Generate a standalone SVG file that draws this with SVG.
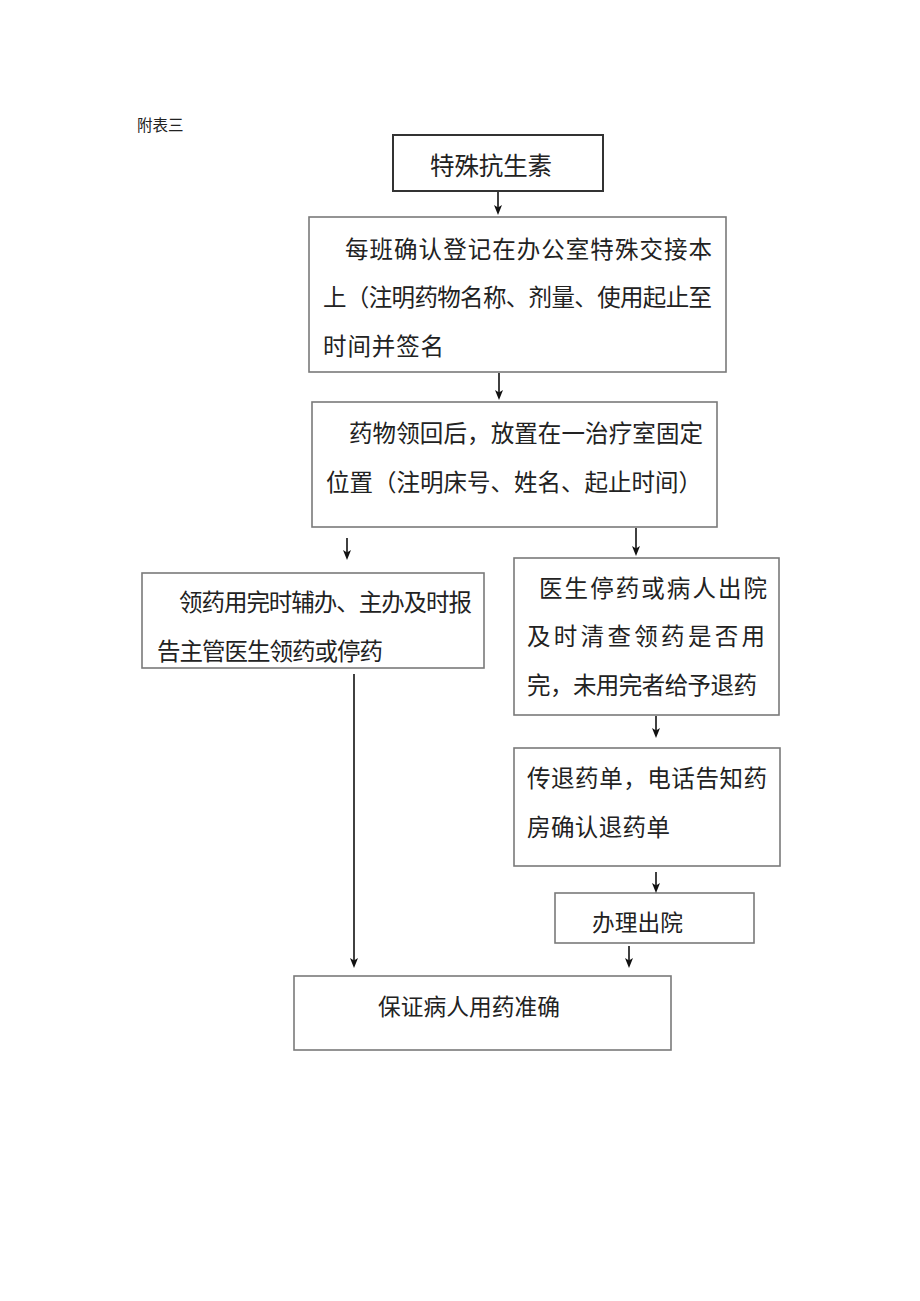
<svg xmlns="http://www.w3.org/2000/svg" width="920" height="1301" viewBox="0 0 920 1301">
<style>
text{font-family:"Noto Sans CJK SC","Noto Sans",sans-serif;fill:#222;}
.t{font-size:23.5px;}
.box{fill:#fff;stroke:#7a7a7a;stroke-width:1.6;}
.box1{fill:#fff;stroke:#333;stroke-width:2;}
.conn{stroke:#111;stroke-width:1.6;fill:none;marker-end:url(#ah);}
</style>
<defs>
<marker id="ah" markerUnits="userSpaceOnUse" markerWidth="10" markerHeight="8" refX="6" refY="4" orient="auto" viewBox="0 0 10 8">
<path d="M0,0 L10,4 L0,8 L2.5,4 Z" fill="#111"/>
</marker>
</defs>
<rect width="920" height="1301" fill="#fff"/>
<text x="137" y="131" style="font-size:15.5px">附表三</text>

<g id="n1"><rect class="box1" x="393" y="135" width="210" height="56"/><text x="430" y="175" style="font-size:24.5px" textLength="122" lengthAdjust="spacing">特殊抗生素</text></g>

<g id="n2"><rect class="box" x="309" y="217" width="417" height="155"/>
<text class="t" x="345" y="258" textLength="367" lengthAdjust="spacing">每班确认登记在办公室特殊交接本</text>
<text class="t" x="323" y="306" textLength="389" lengthAdjust="spacing">上（注明药物名称、剂量、使用起止至</text>
<text class="t" x="323" y="355" textLength="121" lengthAdjust="spacing">时间并签名</text></g>

<g id="n3"><rect class="box" x="312" y="402" width="405" height="125"/>
<text class="t" x="349" y="442" textLength="354" lengthAdjust="spacing">药物领回后，放置在一治疗室固定</text>
<text class="t" x="326" y="491" textLength="376" lengthAdjust="spacing">位置（注明床号、姓名、起止时间）</text></g>

<g id="n4"><rect class="box" x="142" y="573" width="342" height="95"/>
<text class="t" x="179" y="611" textLength="293" lengthAdjust="spacing">领药用完时辅办、主办及时报</text>
<text class="t" x="157" y="660" textLength="226" lengthAdjust="spacing">告主管医生领药或停药</text></g>

<g id="n5"><rect class="box" x="514" y="558" width="265" height="157"/>
<text class="t" x="539" y="597" textLength="228" lengthAdjust="spacing">医生停药或病人出院</text>
<text class="t" x="527" y="645" textLength="238" lengthAdjust="spacing">及时清查领药是否用</text>
<text class="t" x="527" y="694" textLength="230" lengthAdjust="spacing">完，未用完者给予退药</text></g>

<g id="n6"><rect class="box" x="514" y="748" width="266" height="118"/>
<text class="t" x="527" y="787" textLength="240" lengthAdjust="spacing">传退药单，电话告知药</text>
<text class="t" x="527" y="836" textLength="143" lengthAdjust="spacing">房确认退药单</text></g>

<g id="n7"><rect class="box" x="555" y="893" width="199" height="50"/>
<text x="592" y="931" style="font-size:22.7px" textLength="91" lengthAdjust="spacing">办理出院</text></g>

<g id="n8"><rect class="box" x="294" y="976" width="377" height="74"/>
<text x="378" y="1015" style="font-size:22.7px" textLength="182" lengthAdjust="spacing">保证病人用药准确</text></g>

<g id="connectors">
<line class="conn" x1="498" y1="192" x2="498" y2="211"/>
<line class="conn" x1="499" y1="373" x2="499" y2="396"/>
<line class="conn" x1="347" y1="538" x2="347" y2="556"/>
<line class="conn" x1="636" y1="528" x2="636" y2="552"/>
<line class="conn" x1="656" y1="716" x2="656" y2="734"/>
<line class="conn" x1="656" y1="872" x2="656" y2="889"/>
<line class="conn" x1="629" y1="946" x2="629" y2="964"/>
<line class="conn" x1="354" y1="674" x2="354" y2="964"/>
</g>
</svg>
